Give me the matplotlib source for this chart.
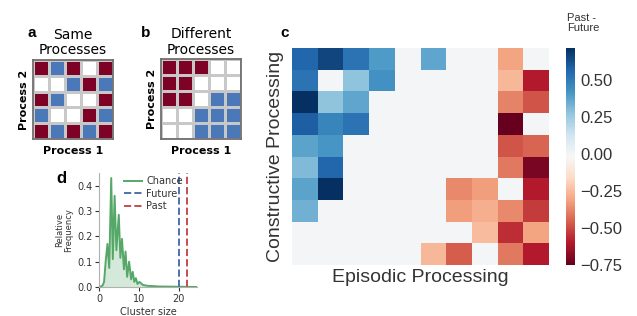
import numpy as np
import matplotlib
matplotlib.use('Agg')
import matplotlib.pyplot as plt
from matplotlib.colors import ListedColormap, Normalize

# panel a / b: 1 = red, -1 = blue, 0 = empty
same_proc = [[1, -1, 1, 0, 1],
             [0, 0, -1, 1, -1],
             [1, -1, 0, 0, 1],
             [-1, 0, 0, 1, -1],
             [1, -1, 1, -1, 1]]
diff_proc = [[1, 1, 1, 0, 0],
             [1, 1, 0, 0, 0],
             [1, 1, 0, -1, -1],
             [0, 0, -1, -1, -1],
             [0, 0, -1, -1, -1]]

# panel c: past - future, rows = constructive, cols = episodic
past_future = [
    [0.57, 0.66, 0.53, 0.40, 0, 0.37, 0, 0, -0.31, 0],
    [0.53, 0, 0.28, 0.43, 0, 0, 0, 0, -0.26, -0.60],
    [0.72, 0.28, 0.37, 0, 0, 0, 0, 0, -0.38, -0.48],
    [0.59, 0.47, 0.53, 0, 0, 0, 0, 0, -0.75, 0],
    [0.38, 0.42, 0, 0, 0, 0, 0, 0, -0.48, -0.44],
    [0.31, 0.57, 0, 0, 0, 0, 0, 0, -0.40, -0.71],
    [0.38, 0.72, 0, 0, 0, 0, -0.37, -0.32, 0, -0.60],
    [0.34, 0, 0, 0, 0, 0, -0.32, -0.28, -0.37, -0.53],
    [0, 0, 0, 0, 0, 0, 0, -0.25, -0.56, -0.31],
    [0, 0, 0, 0, 0, -0.26, -0.46, 0, -0.40, -0.60],
]
cbar_ticks = [0.50, 0.25, 0.00, -0.25, -0.50, -0.75]

# panel d: chance distribution of cluster sizes
cluster_size = [0, 0.8, 1.2, 1.6, 2.05, 2.5, 3.0, 3.4, 3.85, 4.3, 4.9, 5.3, 5.7, 6.2,
                6.6, 7.0, 7.5, 8.0, 8.4, 8.8, 9.2, 9.6, 10.1, 11, 12, 15, 20, 24.5]
rel_freq = [0, 0.005, 0.02, 0.1, 0.17, 0.075, 0.43, 0.11, 0.36, 0.145, 0.285, 0.115, 0.19, 0.07,
            0.14, 0.04, 0.1, 0.03, 0.06, 0.02, 0.035, 0.012, 0.02, 0.008, 0.005, 0.002, 0.001, 0]
future_size = 20
past_size = 22

RED = '#7d0226'
BLUE = '#4a78b8'
dark = '#333333'

fig = plt.figure(figsize=(6.37, 3.16), dpi=100)

# small process matrices
def proc_matrix(rect, mat, title, letter, lx):
    ax = fig.add_axes(rect)
    cmap = ListedColormap([BLUE, 'white', RED])
    m = np.array(mat)
    ax.pcolormesh(np.arange(6), np.arange(6), m, cmap=cmap, vmin=-1, vmax=1,
                  edgecolors='#c8c8c8', linewidth=0.8)
    ax.set_xlim(0, 5)
    ax.set_ylim(5, 0)
    ax.set_xticks([])
    ax.set_yticks([])
    for s in ax.spines.values():
        s.set_color('#707070')
        s.set_linewidth(1.3)
    ax.set_title(title, fontsize=10, family='DejaVu Sans', pad=4, linespacing=1.15)
    ax.set_xlabel('Process 1', fontsize=8, fontweight='bold', labelpad=5)
    ax.set_ylabel('Process 2', fontsize=8, fontweight='bold', labelpad=3)
    fig.text(lx, 1 - 37 / 316, letter, fontsize=11, fontweight='bold', family='Liberation Sans')
    return ax

proc_matrix([33 / 637, 0.560, 80 / 637, 0.250], same_proc, 'Same\nProcesses', 'a', 27 / 637)
proc_matrix([161 / 637, 0.560, 80 / 637, 0.253], diff_proc, 'Different\nProcesses', 'b', 141 / 637)

# heatmap
axc = fig.add_axes([292 / 637, 1 - 265 / 316, 257 / 637, 217 / 316])
norm = Normalize(vmin=-0.75, vmax=0.72)
mesh = axc.pcolormesh(np.arange(11), np.arange(11), np.array(past_future), cmap='RdBu', norm=norm)
axc.set_xlim(0, 10)
axc.set_ylim(10, 0)
axc.set_xticks([])
axc.set_yticks([])
for s in axc.spines.values():
    s.set_visible(False)
axc.set_xlabel('Episodic Processing', fontsize=14, family='Liberation Sans', color=dark, labelpad=3)
axc.set_ylabel('Constructive Processing', fontsize=14, family='Liberation Sans', color=dark, labelpad=6)
fig.text(280 / 637, 1 - 37 / 316, 'c', fontsize=11, fontweight='bold', family='Liberation Sans')

cax = fig.add_axes([566 / 637, 1 - 265 / 316, 9 / 637, 217 / 316])
cb = fig.colorbar(mesh, cax=cax, ticks=cbar_ticks)
cb.outline.set_visible(False)
cb.ax.tick_params(length=0, labelsize=12, colors=dark, pad=4)
cb.ax.set_yticklabels([f'{t:.2f}'.replace('-', '\u2212') for t in cbar_ticks], family='Liberation Sans')
fig.text(567 / 637, 1 - 13 / 316, 'Past -\nFuture', fontsize=8, family='Liberation Sans',
         color=dark, va='top', linespacing=1.0)

# chance distribution
axd = fig.add_axes([99.3 / 637, 1 - 287 / 316, 97.4 / 637, 114 / 316])
axd.plot(cluster_size, rel_freq, color='#55a868', lw=1.4, label='Chance')
axd.fill_between(cluster_size, rel_freq, color='#55a868', alpha=0.25, lw=0)
axd.axvline(future_size, color='#4c72b0', ls='--', lw=1.4, label='Future')
axd.axvline(past_size, color='#c44e52', ls='--', lw=1.4, label='Past')
axd.set_xlim(0, 24.5)
axd.set_ylim(0, 0.45)
axd.set_xticks([0, 10, 20])
axd.set_yticks([0, 0.1, 0.2, 0.3, 0.4])
axd.yaxis.set_major_formatter(plt.FormatStrFormatter('%.1f'))
axd.tick_params(labelsize=7, colors=dark, length=3, width=0.8, pad=2)
for side in ['top', 'right']:
    axd.spines[side].set_visible(False)
for side in ['left', 'bottom']:
    axd.spines[side].set_color('#b0b0b0')
axd.set_xlabel('Cluster size', fontsize=7, color=dark, labelpad=2)
axd.set_ylabel('Relative\nFrequency', fontsize=6, color=dark, labelpad=3, linespacing=1.0)
axd.legend(loc='upper left', bbox_to_anchor=(0.25, 0.97), borderaxespad=0, borderpad=0,
           fontsize=7, frameon=False, handlelength=1.9, handletextpad=0.45,
           labelspacing=0.25, labelcolor=dark)
fig.text(56 / 637, 1 - 183 / 316, 'd', fontsize=12, fontweight='bold', family='Liberation Sans')

fig.savefig('out.png', dpi=100)
